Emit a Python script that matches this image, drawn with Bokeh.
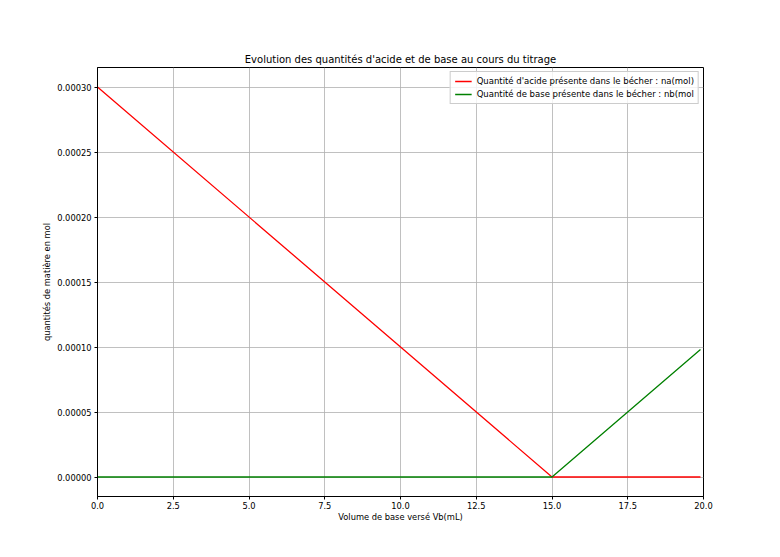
from bokeh.plotting import figure
from bokeh.models import Range1d, FixedTicker, PrintfTickFormatter, Legend, LegendItem
from bokeh.embed import file_html
from bokeh.resources import INLINE

# Data
vb = [0.0, 15.0, 19.9]
na = [0.0003, 0.0, 0.0]
nb = [0.0, 0.0, 0.000098]
x_ticks = [0, 2.5, 5, 7.5, 10, 12.5, 15, 17.5, 20]
y_ticks = [0.0, 0.00005, 0.0001, 0.00015, 0.0002, 0.00025, 0.0003]
title = "Evolution des quantités d'acide et de base au cours du titrage"
xlabel = "Volume de base versé Vb(mL)"
ylabel = "quantités de matière en mol"
label_a = "Quantité d'acide présente dans le bécher : na(mol)"
label_b = "Quantité de base présente dans le bécher : nb(mol"

FONT = "DejaVu Sans"

p = figure(width=764, height=541, output_backend="svg", toolbar_location=None,
           x_range=Range1d(0, 20), y_range=Range1d(-0.000015, 0.000315),
           min_border_left=97, min_border_right=61, min_border_top=67, min_border_bottom=45)
p.background_fill_color = "white"
p.border_fill_color = "white"
p.outline_line_color = "black"
p.outline_line_width = 1

p.title.text = title
p.title.align = "center"
p.title.text_font = FONT
p.title.text_font_size = "10px"
p.title.text_font_style = "normal"
p.title.text_color = "black"
p.title.standoff = 6

for ax in (p.xaxis[0], p.yaxis[0]):
    ax.axis_label_text_font = FONT
    ax.axis_label_text_font_size = "8.3px"
    ax.axis_label_text_font_style = "normal"
    ax.axis_label_text_color = "black"
    ax.major_label_text_font = FONT
    ax.major_label_text_font_size = "8.3px"
    ax.major_label_text_color = "black"
    ax.minor_tick_line_color = None
    ax.major_tick_out = 3
    ax.major_tick_in = 0
    ax.axis_line_color = "black"
    ax.major_tick_line_color = "black"
    ax.major_label_standoff = 3

p.xaxis.axis_label = xlabel
p.yaxis.axis_label = ylabel
p.xaxis.ticker = FixedTicker(ticks=x_ticks)
p.yaxis.ticker = FixedTicker(ticks=y_ticks)
p.xaxis.formatter = PrintfTickFormatter(format="%.1f")
p.yaxis.formatter = PrintfTickFormatter(format="%.5f")
p.xaxis[0].major_label_standoff = 2
p.xaxis.axis_label_standoff = 0
p.yaxis.axis_label_standoff = 2

p.grid.grid_line_color = "#b0b0b0"
p.grid.grid_line_width = 0.8

ra = p.line(vb, na, line_color="#ff0000", line_width=1.3)
rb = p.line(vb, nb, line_color="#008000", line_width=1.3)

legend = Legend(items=[LegendItem(label=label_a, renderers=[ra]),
                       LegendItem(label=label_b, renderers=[rb])],
                location="top_right")
legend.label_text_font = FONT
legend.label_text_font_size = "8.5px"
legend.label_text_color = "black"
legend.label_height = 10
legend.glyph_height = 10
legend.glyph_width = 17
legend.spacing = 3
legend.padding = 4
legend.margin = 4
legend.label_standoff = 5
legend.border_line_color = "#cccccc"
legend.border_line_alpha = 1
legend.background_fill_alpha = 0.8
p.add_layout(legend)

open("out.html", "w").write(file_html(p, INLINE))
